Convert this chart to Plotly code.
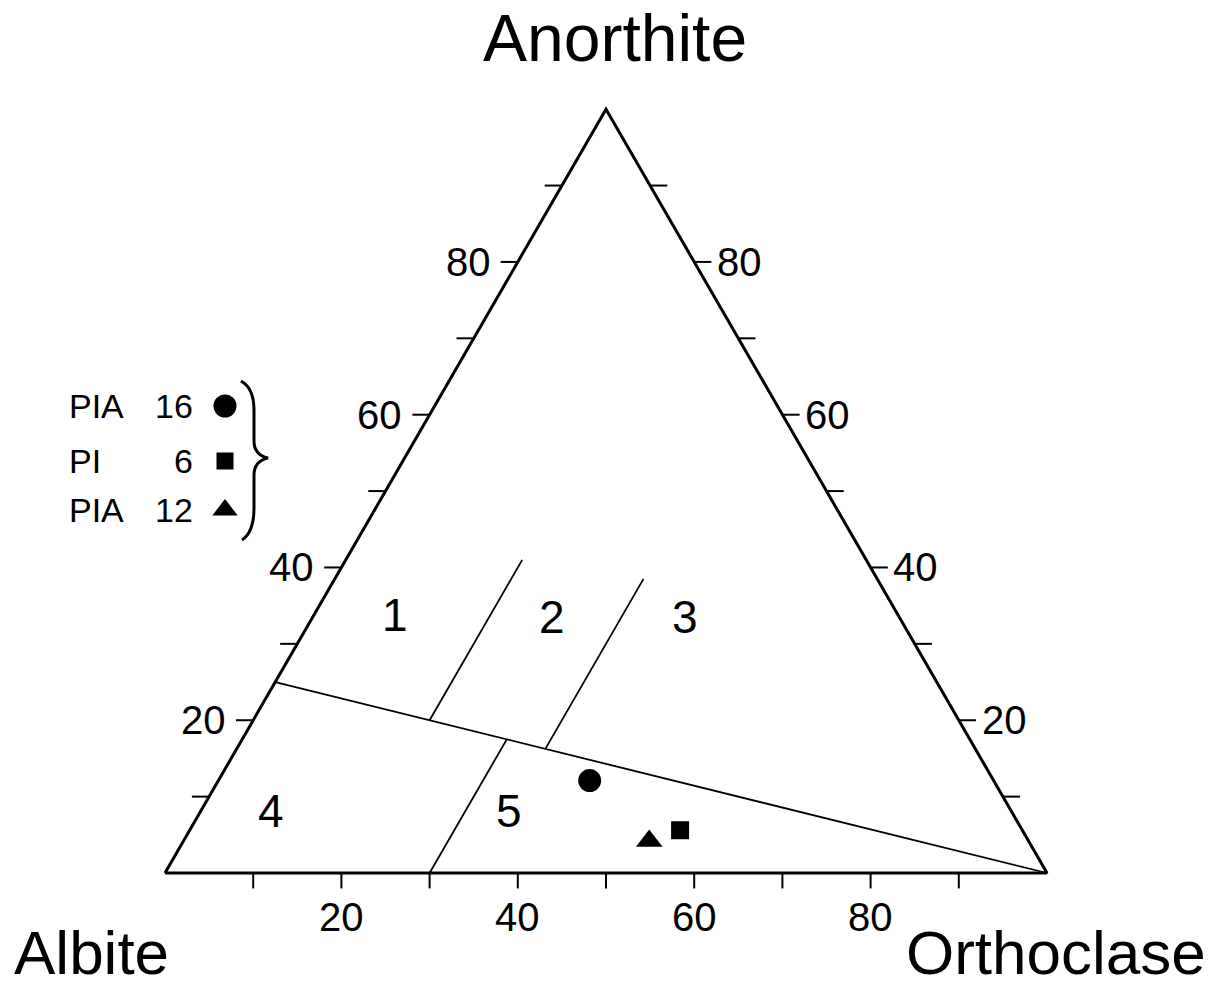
import math
import plotly.graph_objects as go

# ---- Ternary feldspar diagram: Ab - Or - An (mol %) ----
END_MEMBERS = ["Albite", "Orthoclase", "Anorthite"]

TICK_VALUES = [10, 20, 30, 40, 50, 60, 70, 80, 90]
TICK_LABELS = ["", "20", "", "40", "", "60", "", "80", ""]

# Field boundaries, given as (Or, An) end points
BOUNDARY_OR = [0, 100]
BOUNDARY_AN = [25, 0]
DIVIDER_LOW_OR = [30, 30]
DIVIDER_LOW_AN = [0, 17.5]
DIVIDER_12_OR = [20, 20]
DIVIDER_12_AN = [20, 41]
DIVIDER_23_OR = [35, 35]
DIVIDER_23_AN = [16.25, 38.5]

FIELD_NAMES = ["1", "2", "3", "4", "5"]

# Analysed samples
SAMPLES = ["PIA 16", "PI 6", "PIA 12"]
SAMPLE_AB = [45.8, 38.8, 43.0]
SAMPLE_OR = [42.1, 55.6, 52.8]
SAMPLE_AN = [12.1, 5.6, 4.2]
SAMPLE_SYMBOLS = ["circle", "square", "triangle-up"]

# ---- geometry helpers ----
H = math.sqrt(3) / 2
S = 8.82            # pixels per composition unit
X0, Y0 = 165, 873   # pixel position of the Albite corner
W, HT = 1215, 992


def tern(or_, an):
    """(Or, An) -> cartesian diagram coordinates."""
    return or_ + an / 2.0, an * H


def pix(xp, yp):
    """page pixel -> diagram coordinates (for decorations only)."""
    return (xp - X0) / S, (Y0 - yp) / S


FONT = "Liberation Sans, Arial, sans-serif"
fig = go.Figure()


def seg(or_list, an_list, width):
    xs, ys = zip(*[tern(o, a) for o, a in zip(or_list, an_list)])
    fig.add_trace(go.Scatter(x=list(xs), y=list(ys), mode="lines",
                             line=dict(color="black", width=width),
                             hoverinfo="skip", showlegend=False))


# triangle outline
seg([0, 100, 0, 0], [0, 0, 100, 0], 3)

# field boundaries
seg(BOUNDARY_OR, BOUNDARY_AN, 1.8)
seg(DIVIDER_LOW_OR, DIVIDER_LOW_AN, 1.8)
seg(DIVIDER_12_OR, DIVIDER_12_AN, 1.8)
seg(DIVIDER_23_OR, DIVIDER_23_AN, 1.8)

# tick marks
TICK_LEN = 1.95
tx, ty = [], []
for v in TICK_VALUES:
    # bottom (Or)
    bx, by = tern(v, 0)
    tx += [bx, bx, None]
    ty += [by, by - 1.75, None]
    # left (An on Ab-An edge)
    lx, ly = tern(0, v)
    tx += [lx, lx - TICK_LEN, None]
    ty += [ly, ly, None]
    # right (An on Or-An edge)
    rx, ry = tern(100 - v, v)
    tx += [rx, rx + TICK_LEN, None]
    ty += [ry, ry, None]
fig.add_trace(go.Scatter(x=tx, y=ty, mode="lines",
                         line=dict(color="black", width=2),
                         hoverinfo="skip", showlegend=False))

annotations = []
TICK_FONT = dict(family=FONT, size=40, color="black")
for v, lab in zip(TICK_VALUES, TICK_LABELS):
    if not lab:
        continue
    bx, by = tern(v, 0)
    annotations.append(dict(x=bx, y=by - 5.0, text=lab, showarrow=False,
                            xanchor="center", yanchor="middle", font=TICK_FONT))
    lx, ly = tern(0, v)
    annotations.append(dict(x=lx - TICK_LEN - 0.9, y=ly, text=lab, showarrow=False,
                            xanchor="right", yanchor="middle", font=TICK_FONT))
    rx, ry = tern(100 - v, v)
    annotations.append(dict(x=rx + TICK_LEN + 0.4, y=ry, text=lab, showarrow=False,
                            xanchor="left", yanchor="middle", font=TICK_FONT))

# end-member names
ax_, ay_ = pix(615, 38)
annotations.append(dict(x=ax_, y=ay_, text=END_MEMBERS[2], showarrow=False,
                        xanchor="center", yanchor="middle",
                        font=dict(family=FONT, size=66, color="black")))
CORNER_FONT = dict(family=FONT, size=62, color="black")
bx_, by_ = pix(12, 952)
annotations.append(dict(x=bx_, y=by_, text=END_MEMBERS[0], showarrow=False,
                        xanchor="left", yanchor="middle", font=CORNER_FONT))
cx_, cy_ = pix(1208, 952)
annotations.append(dict(x=cx_, y=cy_, text=END_MEMBERS[1], showarrow=False,
                        xanchor="right", yanchor="middle", font=CORNER_FONT))

# field numbers, placed inside each field as (Or, An)
FIELD_PLACE = [(9.2, 33.8), (27.1, 33.5), (42.2, 33.5), (8.0, 8.1), (34.9, 8.1)]
for name, (o, a) in zip(FIELD_NAMES, FIELD_PLACE):
    fx, fy = tern(o, a)
    annotations.append(dict(x=fx, y=fy, text=name, showarrow=False,
                            xanchor="center", yanchor="middle",
                            font=dict(family=FONT, size=46, color="black")))

# samples
MARKER_SIZES = [23, 18, 23]
for name, ab, o, a, sym, sz in zip(SAMPLES, SAMPLE_AB, SAMPLE_OR, SAMPLE_AN,
                                   SAMPLE_SYMBOLS, MARKER_SIZES):
    px_, py_ = tern(o, a)
    fig.add_trace(go.Scatter(x=[px_], y=[py_], mode="markers", name=name,
                             marker=dict(symbol=sym, size=sz, color="black"),
                             showlegend=False))

# key at the left: sample name, number and symbol
KEY_ROWS = [406, 461, 510]
LEG_FONT = dict(family=FONT, size=34, color="black")
for name, sym, sz, yrow in zip(SAMPLES, SAMPLE_SYMBOLS, MARKER_SIZES, KEY_ROWS):
    prefix, num = name.split(" ")
    lx_, ly_ = pix(67, yrow)
    annotations.append(dict(x=lx_, y=ly_, text=prefix, showarrow=False,
                            xanchor="left", yanchor="middle", font=LEG_FONT))
    nx_, ny_ = pix(195, yrow)
    annotations.append(dict(x=nx_, y=ny_, text=num, showarrow=False,
                            xanchor="right", yanchor="middle", font=LEG_FONT))
    mx_, my_ = pix(225, yrow)
    fig.add_trace(go.Scatter(x=[mx_], y=[my_], mode="markers",
                             marker=dict(symbol=sym, size=sz - 1 if sym != "circle" else sz,
                                         color="black"),
                             hoverinfo="skip", showlegend=False))

# curly brace grouping the key
brace_px = [("M", 241, 381), ("C", 250, 386, 254, 395, 254, 410), ("L", 254, 441),
            ("C", 254, 451, 259, 456, 268, 458), ("C", 259, 460, 254, 465, 254, 475),
            ("L", 254, 508), ("C", 254, 523, 251, 534, 242, 540)]
parts = []
for cmd in brace_px:
    pts = cmd[1:]
    coords = []
    for i in range(0, len(pts), 2):
        dx, dy = pix(pts[i], pts[i + 1])
        coords.append(f"{dx:.3f},{dy:.3f}")
    parts.append(cmd[0] + " " + " ".join(coords))
fig.add_shape(type="path", path=" ".join(parts), xref="x", yref="y",
              line=dict(color="black", width=3))

fig.update_layout(
    width=W, height=HT,
    margin=dict(l=0, r=0, t=0, b=0),
    paper_bgcolor="white", plot_bgcolor="white",
    xaxis=dict(range=[-X0 / S, (W - X0) / S], visible=False, fixedrange=True),
    yaxis=dict(range=[(Y0 - HT) / S, Y0 / S], visible=False, fixedrange=True),
    annotations=annotations,
    showlegend=False,
)

fig.write_html("out.html")
